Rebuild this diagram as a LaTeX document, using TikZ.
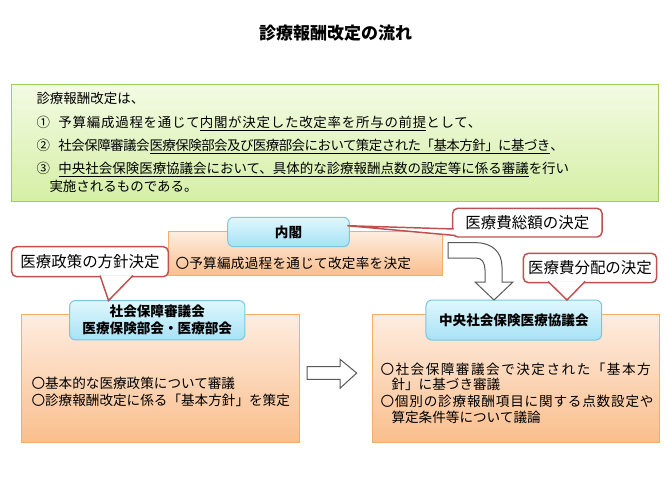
\documentclass[tikz,border=0pt]{standalone}
\usepackage{fontspec}
\newfontfamily\jp{Noto Sans CJK JP}
\usetikzlibrary{calc}

\definecolor{grntop}{RGB}{243,251,228}
\definecolor{grnbot}{RGB}{213,239,165}
\definecolor{grnline}{RGB}{160,204,96}
\definecolor{orgtop}{RGB}{253,237,224}
\definecolor{orgbot}{RGB}{250,190,140}
\definecolor{orgline}{RGB}{247,172,104}
\definecolor{blutop}{RGB}{224,247,253}
\definecolor{blubot}{RGB}{166,226,246}
\definecolor{bluline}{RGB}{122,198,226}
\definecolor{calline}{RGB}{192,80,77}
\definecolor{arrline}{RGB}{89,89,89}

\tikzset{every picture/.style={line width=0.75pt}}
\tikzset{
  greenbox/.style={draw=grnline, top color=grntop, bottom color=grnbot, inner sep=0pt, outer sep=0pt},
  orangebox/.style={draw=orgline, top color=orgtop, bottom color=orgbot, inner sep=0pt, outer sep=0pt},
  bluebox/.style={draw=bluline, top color=blutop, bottom color=blubot, rounded corners=4.5pt, inner sep=0pt, outer sep=0pt, font=\jp\bfseries\fontsize{10.2}{12.75}\selectfont},
  callbox/.style={draw=calline, line width=1.1pt, fill=white, rounded corners=3.75pt, inner sep=0pt, outer sep=0pt, font=\jp\fontsize{11.6}{14}\selectfont},
  calltail/.style={draw=calline, line width=1.1pt, fill=white, line join=miter},
  blockarrow/.style={draw=arrline, fill=white, line join=miter},
  titletext/.style={inner sep=0pt, font=\jp\bfseries\fontsize{12.75}{15}\selectfont},
  introtext/.style={anchor=west, inner sep=0pt, font=\jp\fontsize{10.1}{12}\selectfont},
  bodytext/.style={anchor=west, inner sep=0pt, font=\jp\fontsize{10.2}{12}\selectfont}
}

\begin{document}
\begin{tikzpicture}[x=0.75pt,y=0.75pt,yscale=-1,xscale=1]
	\useasboundingbox (0,0) rectangle (670,503);

	% Text Node
	\draw (335.5,33) node (title) [titletext] {診療報酬改定の流れ};

	%Shape: Rectangle
	\draw (334.5,142.5) node (intro) [greenbox, minimum width=485.25pt, minimum height=87.75pt] {};
	% Text Node
	\draw (36,98.3) node (intro0) [introtext] {診療報酬改定は、};
	% Text Node
	\draw (36,123.3) node (intro1) [introtext] {①\hspace{6.4pt}{\addfontfeature{LetterSpace=5.5}予算編成過程を通じて\underline{内閣が決定した改定率を所与の前提}として、}};
	% Text Node
	\draw (36,146.7) node (intro2) [introtext] {②\hspace{6.4pt}{\addfontfeature{LetterSpace=-4}社会保障審議会\underline{医療保険部会及び医療部会において策定された「基本方針」に基づき}、}};
	% Text Node
	\draw (36,169.3) node (intro3) [introtext] {③\hspace{6.4pt}\underline{中央社会保険医療協議会において、具体的な診療報酬点数の設定等に係る審議}を行い};
	% Text Node
	\draw (49,186) node (intro4) [introtext] {実施されるものである。};

	%Shape: Rectangle
	\draw (305.5,253.85) node (naikakubody) [orangebox, minimum width=205.8pt, minimum height=33.2pt] {};
	%Rounded Rect
	\draw (288.5,232) node (naikaku) [bluebox, minimum width=91.2pt, minimum height=22.05pt] {内閣};
	% Text Node
	\draw (175,263.3) node (naikakutxt) [bodytext] {\addfontfeature{LetterSpace=2}〇予算編成過程を通じて改定率を決定};

	%Shape: Rectangle
	\draw (160.2,378.85) node (shingikaibody) [orangebox, minimum width=208.2pt, minimum height=95.8pt] {};
	%Rounded Rect
	\draw (157.25,320.25) node (shingikai) [bluebox, minimum width=131.6pt, minimum height=29.6pt, align=center] {社会保障審議会\\医療保険部会・医療部会};
	% Text Node
	\draw (31,383.3) node (shingikai1) [bodytext] {〇基本的な医療政策について審議};
	% Text Node
	\draw (31,400) node (shingikai2) [bodytext] {〇診療報酬改定に係る「基本方針」を策定};

	%Shape: Rectangle
	\draw (515.5,378.85) node (chuikyobody) [orangebox, minimum width=215.25pt, minimum height=95.8pt] {};
	%Rounded Rect
	\draw (513.85,320) node (chuikyo) [bluebox, minimum width=131.8pt, minimum height=30pt] {中央社会保険医療協議会};
	% Text Node
	\draw (380,369.3) node (chuikyo1) [bodytext] {\addfontfeature{LetterSpace=11}〇社会保障審議会で決定された「基本方};
	% Text Node
	\draw (391,384.3) node (chuikyo2) [bodytext] {針」に基づき審議};
	% Text Node
	\draw (380,401.7) node (chuikyo3) [bodytext] {\addfontfeature{LetterSpace=6}〇個別の診療報酬項目に関する点数設定や};
	% Text Node
	\draw (391,417.3) node (chuikyo4) [bodytext] {算定条件等について議論};

	%Right Arrow
	\draw [blockarrow] (307,366.7) -- (340,366.7) -- (340,359.3) -- (356.7,373) -- (340,388.3) -- (340,379.3) -- (307,379.3) -- cycle ;
	%Curved Down Arrow
	\draw [blockarrow] (448,242.7) -- (476,242.7) .. controls (492,242.7) and (502,252) .. (502,267) -- (502,282) -- (513,282) -- (494,300) -- (475,282) -- (485,282) -- (485,270) .. controls (485,263) and (482,258) .. (476,258) -- (448,258) -- cycle ;

	%Callout
	\draw (527.35,222.65) node (sogaku) [callbox, minimum width=112pt, minimum height=21.5pt] {医療費総額の決定};
	\filldraw [calltail] ($(sogaku.south west)+(1,-8)$) -- ($(naikaku.north east)+(-2,8.4)$) -- ($(sogaku.south west)+(2.5,-1.5)$) ;
	%Callout
	\draw (90,261.7) node (hoshin) [callbox, minimum width=117.45pt, minimum height=22.5pt] {医療政策の方針決定};
	\filldraw [calltail] ($(hoshin.south west)+(88.3,-1.2)$) -- ($(shingikai.north west)+(39,0)$) -- ($(hoshin.south west)+(121.3,-1.2)$) ;
	%Callout
	\draw (590,268) node (haibun) [callbox, minimum width=100pt, minimum height=22pt] {医療費分配の決定};
	\filldraw [calltail] ($(haibun.south west)+(24.7,-1.2)$) -- ($(chuikyo.north west)+(141,0)$) -- ($(haibun.south west)+(61.7,-1.2)$) ;

\end{tikzpicture}
\end{document}
